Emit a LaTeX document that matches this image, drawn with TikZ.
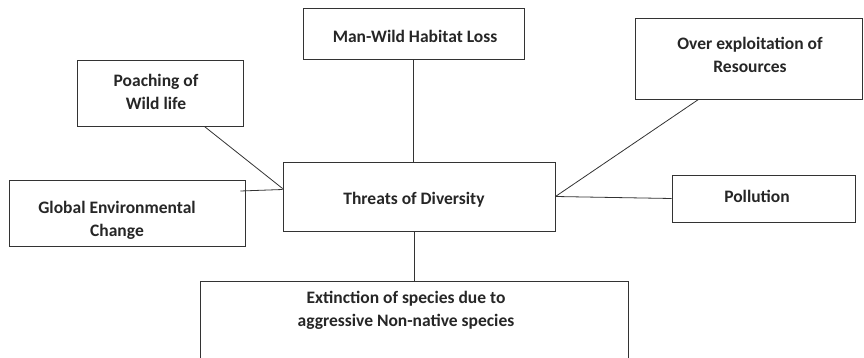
\documentclass[tikz,border=0pt]{standalone}
\usepackage{fontspec}
\setmainfont{Carlito}
\begin{document}
\begin{tikzpicture}[x=1pt,y=-1pt,
  box/.style={draw=black!80, line width=0.9pt, rectangle, inner sep=0pt},
  lbl/.style={font=\bfseries\fontsize{17.5}{23}\selectfont, align=center, text=black!85, inner sep=0pt},
  link/.style={draw=black!80, line width=0.8pt}]
\useasboundingbox (0,0) rectangle (864,358);
\clip (0,0) rectangle (864,358);

% boxes
\node[box, minimum width=221pt, minimum height=51pt] (mw) at (413.5,33.5) {};
\node[box, minimum width=166pt, minimum height=66pt] (pw) at (160,93) {};
\node[box, minimum width=272pt, minimum height=69pt] (th) at (419,196.5) {};
\node[box, minimum width=236pt, minimum height=66pt] (gl) at (127,213) {};
\node[box, minimum width=227pt, minimum height=81pt] (ox) at (748.5,58.5) {};
\node[box, minimum width=183pt, minimum height=47pt] (pl) at (763.5,198.5) {};
\node[box, minimum width=428pt, minimum height=100pt] (ex) at (414,331) {};

% labels
\node[lbl] (mwt) at (415,36) {Man-Wild Habitat Loss};
\node[lbl] (pwt) at (156,92) {Poaching of\\Wild life};
\node[lbl] (tht) at (414,200) {Threats of Diversity};
\node[lbl] (glt) at (117,220) {Global Environmental\\Change};
\node[lbl] (oxt) at (750,55) {Over exploitation of\\Resources};
\node[lbl] (plt) at (757,196) {Pollution};
\node[lbl] (ext) at (406,310) {Extinction of species due to\\aggressive Non-native species};

% connectors
\draw[link] (mw.south) -- (mw.south |- th.north);
\draw[link] (pw.-37) -- ([yshift=8pt]th.west);
\draw[link] ([yshift=22pt,xshift=-5pt]gl.east) -- ([yshift=7pt]th.west);
\draw[link] ([xshift=-50pt]ox.south) -- (th.east);
\draw[link] (th.east) -- (pl.west);
\draw[link] (ex.north |- th.south) -- (ex.north);
\end{tikzpicture}
\end{document}
